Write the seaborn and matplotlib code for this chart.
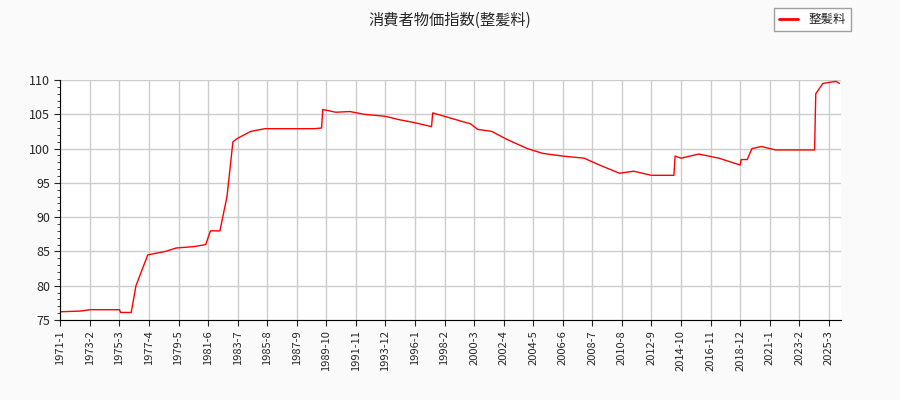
import numpy as np
import pandas as pd
import matplotlib
matplotlib.use("Agg")
import matplotlib.pyplot as plt
import seaborn as sns
from matplotlib.ticker import MultipleLocator

sns.set_style("white")
plt.rcParams["font.family"] = ["Noto Sans CJK JP", "DejaVu Sans"]

# anchor readings of the index (year-month, value)
dates = ["1971-1", "1972-6", "1973-2", "1975-3", "1975-4", "1976-1", "1976-5", "1977-3",
         "1978-6", "1979-3", "1980-6", "1981-4", "1981-8", "1982-4", "1982-10", "1983-3",
         "1983-7", "1984-6", "1985-6", "1988-12", "1989-6", "1989-7", "1990-6", "1991-6",
         "1992-6", "1993-12", "1994-12", "1995-12", "1997-3", "1997-4", "1998-6", "1999-12",
         "2000-6", "2001-6", "2002-6", "2003-12", "2005-1", "2006-6", "2007-12", "2009-1",
         "2010-6", "2011-6", "2012-9", "2014-4", "2014-5", "2014-10", "2016-1", "2017-6",
         "2018-12", "2019-1", "2019-6", "2019-10", "2020-6", "2021-6", "2023-2", "2024-3",
         "2024-4", "2024-10", "2025-9", "2025-12"]
values = [76.2, 76.3, 76.5, 76.5, 76.1, 76.1, 80.0, 84.5,
          85.0, 85.5, 85.7, 86.0, 88.0, 88.0, 93.0, 101.0,
          101.5, 102.5, 102.9, 102.9, 103.0, 105.7, 105.3, 105.4,
          105.0, 104.7, 104.2, 103.8, 103.2, 105.2, 104.5, 103.6,
          102.8, 102.5, 101.4, 100.0, 99.3, 98.9, 98.6, 97.6,
          96.4, 96.7, 96.1, 96.1, 98.9, 98.6, 99.2, 98.6,
          97.6, 98.4, 98.4, 100.0, 100.3, 99.8, 99.8, 99.8,
          108.0, 109.5, 109.8, 109.5]

tick_labels = ["1971-1", "1973-2", "1975-3", "1977-4", "1979-5", "1981-6", "1983-7", "1985-8",
               "1987-9", "1989-10", "1991-11", "1993-12", "1996-1", "1998-2", "2000-3", "2002-4",
               "2004-5", "2006-6", "2008-7", "2010-8", "2012-9", "2014-10", "2016-11", "2018-12",
               "2021-1", "2023-2", "2025-3"]


def month_index(s):
    y, m = s.split("-")
    return (int(y) - 1971) * 12 + int(m) - 1


df = pd.DataFrame({"idx": [month_index(d) for d in dates], "value": values})

fig = plt.figure(figsize=(9, 4), dpi=100, facecolor="#fafafa")
ax = fig.add_axes([0.067, 0.2, 0.867, 0.6])
ax.set_facecolor("white")
sns.lineplot(data=df, x="idx", y="value", ax=ax, color="red", linewidth=1, label="整髪料")

ax.set_xlim(0, month_index("2026-1"))
ax.set_ylim(75, 110)
ax.set_xticks([month_index(t) for t in tick_labels])
ax.set_xticklabels(tick_labels, rotation=90, fontsize=8)
ax.yaxis.set_minor_locator(MultipleLocator(1))
ax.tick_params(axis="y", which="major", length=4, labelsize=9, left=True)
ax.tick_params(axis="y", which="minor", length=2, left=True)
ax.tick_params(axis="x", length=4, bottom=True)
ax.grid(True, color="#cccccc", linewidth=1)
ax.set_xlabel("")
ax.set_ylabel("")
for s in ["top", "right"]:
    ax.spines[s].set_visible(False)
for s in ["left", "bottom"]:
    ax.spines[s].set_color("black")

fig.suptitle("消費者物価指数(整髪料)", y=0.97, fontsize=11)
leg = ax.legend(loc="upper right", bbox_to_anchor=(0.952, 0.995), bbox_transform=fig.transFigure,
                fontsize=9, frameon=True, fancybox=False, edgecolor="#888888", handlelength=1.5)
for line in leg.get_lines():
    line.set_linewidth(2)

fig.savefig("out.png", facecolor=fig.get_facecolor())
